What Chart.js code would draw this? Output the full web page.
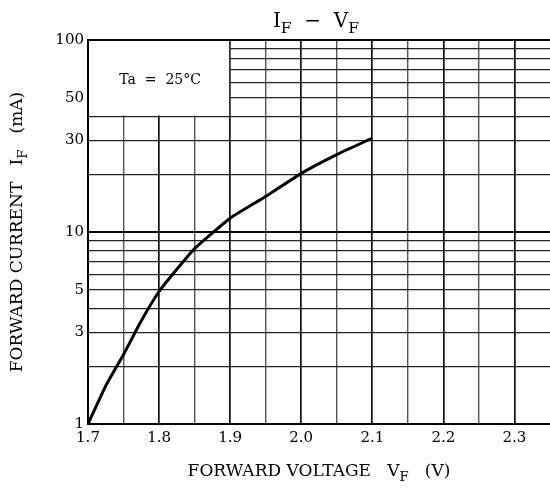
<!DOCTYPE html>
<html lang="en">
<head>
    <meta charset="UTF-8">
    <title>IF - VF</title>
    <style>
        body {
            margin: 0;
            background-color: #fff;
        }

        .chart-container {
            width: 550px;
            height: 491px;
            position: relative;
        }
    </style>
    <script src="https://cdn.jsdelivr.net/npm/chart.js"></script>
</head>
<body>
<div class="chart-container">
    <canvas id="ivChart"></canvas>
</div>
<script>
    // forward voltage (V) and forward current (mA)
    const voltage = [1.70, 1.725, 1.75, 1.775, 1.80, 1.825, 1.85, 1.90, 1.95, 2.00, 2.05, 2.10];
    const current = [1.0, 1.58, 2.3, 3.45, 4.9, 6.4, 8.2, 11.8, 15.3, 20.2, 25.3, 30.8];

    const xGrid = [1.7, 1.75, 1.8, 1.85, 1.9, 1.95, 2.0, 2.05, 2.1, 2.15, 2.2, 2.25, 2.3];
    const xLabels = [1.7, 1.8, 1.9, 2.0, 2.1, 2.2, 2.3];
    const yGrid = [1, 2, 3, 4, 5, 6, 7, 8, 9, 10, 20, 30, 40, 50, 60, 70, 80, 90, 100];
    const yLabels = [1, 3, 5, 10, 30, 50, 100];

    const serif = '"DejaVu Serif", serif';

    function isMajorX(v) {
        return xLabels.some(l => Math.abs(l - v) < 1e-6);
    }

    // text with a subscript part, drawn piece by piece
    function drawSub(ctx, parts, x, y, size) {
        let total = 0;
        parts.forEach(p => {
            ctx.font = (p.sub ? size * 0.78 : size) + 'px ' + serif;
            total += ctx.measureText(p.t).width;
        });
        let cx = x - total / 2;
        ctx.textAlign = 'left';
        parts.forEach(p => {
            ctx.font = (p.sub ? size * 0.78 : size) + 'px ' + serif;
            ctx.fillText(p.t, cx, p.sub ? y + size * 0.3 : y);
            cx += ctx.measureText(p.t).width;
        });
    }

    const labelsPlugin = {
        id: 'labels',
        beforeDatasetsDraw(chart) {
            const ctx = chart.ctx;
            const xs = chart.scales.x, ys = chart.scales.y;
            // condition box in upper left corner
            const l = xs.getPixelForValue(1.7) + 1;
            const r = xs.getPixelForValue(1.9) - 1;
            const t = ys.getPixelForValue(100) + 1;
            const b = ys.getPixelForValue(40) - 1;
            ctx.save();
            ctx.fillStyle = '#fff';
            ctx.fillRect(l, t, r - l, b - t);
            ctx.fillStyle = '#000';
            ctx.textBaseline = 'middle';
            ctx.textAlign = 'center';
            ctx.font = '14px ' + serif;
            ctx.fillText('Ta  =  25°C', (l + r) / 2 + 1, ys.getPixelForValue(62));
            ctx.restore();
        },
        afterDraw(chart) {
            const ctx = chart.ctx;
            const area = chart.chartArea;
            ctx.save();
            ctx.fillStyle = '#000';
            ctx.textBaseline = 'alphabetic';
            drawSub(ctx, [{t: 'I'}, {t: 'F', sub: true}, {t: '  −  V'}, {t: 'F', sub: true}],
                (area.left + area.right) / 2 - 3, 27, 20);
            drawSub(ctx, [{t: 'FORWARD VOLTAGE   V'}, {t: 'F', sub: true}, {t: '   (V)'}],
                (area.left + area.right) / 2, 476, 17);
            ctx.translate(22, (area.top + area.bottom) / 2);
            ctx.rotate(-Math.PI / 2);
            drawSub(ctx, [{t: 'FORWARD CURRENT   I'}, {t: 'F', sub: true}, {t: '   (mA)'}], 0, 0, 17);
            ctx.restore();
        }
    };

    const points = voltage.map((v, i) => ({x: v, y: current[i]}));

    new Chart(document.getElementById('ivChart'), {
        type: 'scatter',
        data: {
            datasets: [{
                data: points,
                showLine: true,
                borderColor: '#000',
                borderWidth: 3,
                pointRadius: 0,
                tension: 0.15
            }]
        },
        options: {
            responsive: true,
            maintainAspectRatio: false,
            animation: false,
            layout: {padding: {top: 40, right: 0, left: 0, bottom: 0}},
            plugins: {
                legend: {display: false},
                tooltip: {enabled: false}
            },
            scales: {
                x: {
                    type: 'linear',
                    min: 1.7,
                    max: 2.35,
                    afterBuildTicks(scale) {
                        scale.ticks = xGrid.map(v => ({value: v}));
                    },
                    afterFit(scale) {
                        scale.height = 67;
                    },
                    ticks: {
                        autoSkip: false,
                        maxRotation: 0,
                        padding: 5,
                        color: '#000',
                        font: {family: serif, size: 15},
                        callback: v => isMajorX(v) ? v.toFixed(1) : ''
                    },
                    grid: {
                        drawTicks: false,
                        color: ctx => isMajorX(ctx.tick.value) ? '#111' : '#555',
                        lineWidth: ctx => isMajorX(ctx.tick.value) ? 1.7 : 1.4
                    },
                    border: {color: '#000', width: 2}
                },
                y: {
                    type: 'logarithmic',
                    min: 1,
                    max: 100,
                    afterBuildTicks(scale) {
                        scale.ticks = yGrid.map(v => ({value: v}));
                    },
                    afterFit(scale) {
                        scale.width = 88;
                    },
                    ticks: {
                        autoSkip: false,
                        padding: 4,
                        color: '#000',
                        font: {family: serif, size: 15},
                        callback: v => yLabels.includes(v) ? String(v) : ''
                    },
                    grid: {
                        drawTicks: false,
                        color: ctx => [10, 100].includes(ctx.tick.value) ? '#000' : '#222',
                        lineWidth: ctx => [10, 100].includes(ctx.tick.value) ? 2 : 1.3
                    },
                    border: {color: '#000', width: 2}
                }
            }
        },
        plugins: [labelsPlugin]
    });
</script>
</body>
</html>
